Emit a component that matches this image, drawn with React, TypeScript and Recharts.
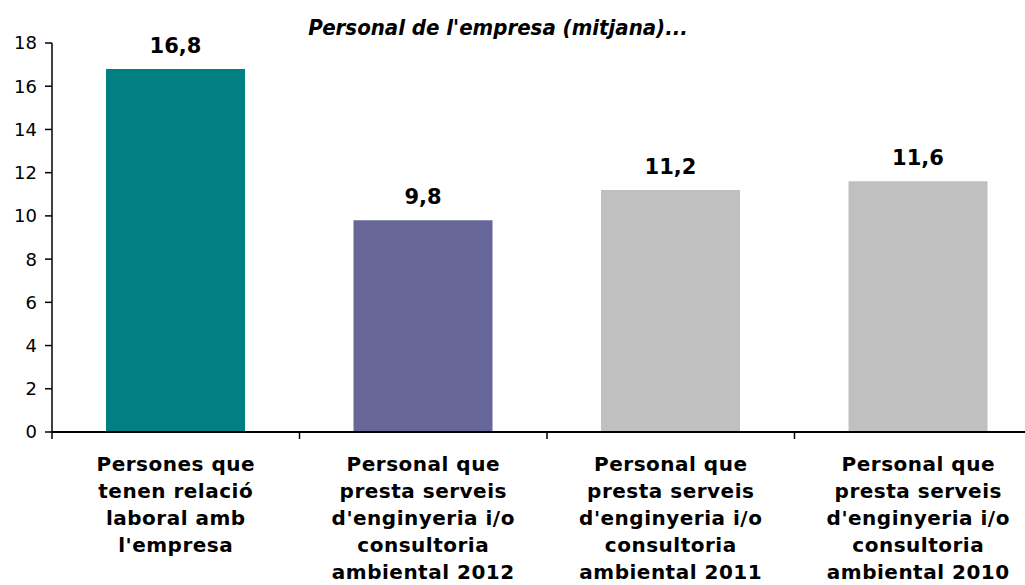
import { BarChart, Bar, XAxis, YAxis, Cell, LabelList } from 'recharts'

const categories = [
  ['Persones que', 'tenen relació', 'laboral amb', "l'empresa"],
  ['Personal que', 'presta serveis', "d'enginyeria i/o", 'consultoria', 'ambiental 2012'],
  ['Personal que', 'presta serveis', "d'enginyeria i/o", 'consultoria', 'ambiental 2011'],
  ['Personal que', 'presta serveis', "d'enginyeria i/o", 'consultoria', 'ambiental 2010'],
]
const values = [16.8, 9.8, 11.2, 11.6]
const colors = ['#008080', '#666699', '#C0C0C0', '#C0C0C0']
const yTicks = [0, 2, 4, 6, 8, 10, 12, 14, 16, 18]

const data = values.map((v, i) => ({ name: String(i), value: v }))

const font = '"DejaVu Sans", Verdana, sans-serif'

const CategoryTick = (props: any) => {
  const { x, y, payload } = props
  const lines = categories[Number(payload.value)]
  const half = payload.offset ?? 0
  return (
    <g>
      <line x1={x - half} x2={x - half} y1={y} y2={y + 7} stroke="#000" strokeWidth={1.5} />
      <text
        x={x}
        y={y + 39}
        textAnchor="middle"
        fontFamily={font}
        fontWeight="bold"
        fontSize={20}
        letterSpacing={0.5}
        fill="#000"
      >
        {lines.map((l, i) => (
          <tspan key={i} x={x} dy={i === 0 ? 0 : 27}>
            {l}
          </tspan>
        ))}
      </text>
    </g>
  )
}

export default function App() {
  return (
    <div
      style={{
        position: 'absolute',
        left: 0,
        top: 0,
        width: 1025,
        height: 585,
        overflow: 'hidden',
        background: '#fff',
      }}
    >
      <BarChart
        width={1052}
        height={585}
        data={data}
        margin={{ top: 43, right: 10, left: 0, bottom: 0 }}
        barCategoryGap="22%"
      >
        <text
          x={498}
          y={35}
          textAnchor="middle"
          fontFamily='"DejaVu Sans Condensed", "DejaVu Sans", sans-serif'
          fontStyle="italic"
          fontWeight="bold"
          fontSize={22}
          fill="#000"
        >
          Personal de l'empresa (mitjana)...
        </text>
        <XAxis
          dataKey="name"
          height={153}
          tickLine={false}
          tickSize={0}
          tickMargin={0}
          interval={0}
          axisLine={{ stroke: '#000', strokeWidth: 2 }}
          tick={<CategoryTick />}
        />
        <YAxis
          width={52}
          domain={[0, 18]}
          ticks={yTicks}
          interval={0}
          tickSize={7}
          tickMargin={8}
          axisLine={{ stroke: '#000', strokeWidth: 1.5 }}
          tickLine={{ stroke: '#000', strokeWidth: 1.5 }}
          tick={{ fill: '#000', fontSize: 18, fontFamily: font }}
        />
        <Bar dataKey="value" barSize={139} isAnimationActive={false}>
          {data.map((d, i) => (
            <Cell key={d.name} fill={colors[i]} />
          ))}
          <LabelList
            dataKey="value"
            position="top"
            offset={16}
            formatter={(v: any) => String(v).replace('.', ',')}
            style={{ fontFamily: font, fontWeight: 'bold', fontSize: 21, fill: '#000' }}
          />
        </Bar>
      </BarChart>
    </div>
  )
}
